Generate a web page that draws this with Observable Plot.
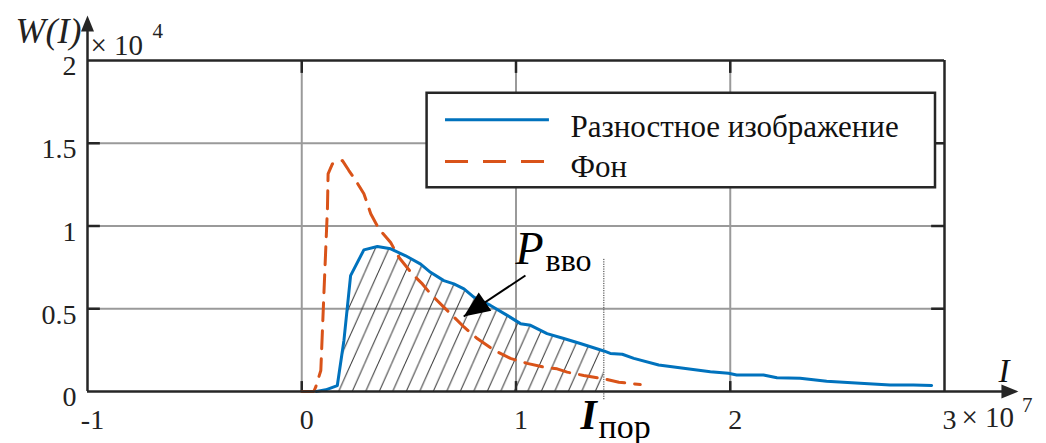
<!DOCTYPE html>
<html>
<head>
<meta charset="utf-8">
<script src="https://cdn.jsdelivr.net/npm/d3@7"></script>
<script src="https://cdn.jsdelivr.net/npm/@observablehq/plot@0.6"></script>
<style>
  html, body { margin: 0; padding: 0; background: #fff; }
  #chart { width: 1046px; height: 443px; }
  #chart svg, #chart svg text { font-family: "Liberation Serif", "Times New Roman", serif !important; }
</style>
</head>
<body>
<div id="chart"></div>
<script>
// ---- data (x in units of 1e7, y in units of 1e4) ----
const blueX = [0.068,0.112,0.166,0.197,0.228,0.29,0.353,0.415,0.485,0.555,0.601,0.663,0.71,0.757,0.803,0.881,0.959,1.021,1.068,1.145,1.223,1.30,1.41,1.44,1.496,1.55,1.666,1.782,1.907,1.992,2.03,2.155,2.218,2.326,2.45,2.606,2.746,2.855,2.94];
const blueY = [0,0.01,0.036,0.31,0.70,0.856,0.876,0.862,0.82,0.77,0.72,0.67,0.65,0.62,0.57,0.52,0.46,0.41,0.40,0.35,0.32,0.29,0.245,0.23,0.225,0.20,0.16,0.14,0.12,0.11,0.10,0.10,0.083,0.08,0.062,0.05,0.04,0.04,0.036];
const orangeX = [0,0.056,0.065,0.089,0.104,0.12,0.123,0.143,0.19,0.22,0.252,0.29,0.322,0.36,0.415,0.454,0.516,0.563,0.601,0.663,0.757,0.819,0.897,0.974,1.052,1.13,1.192,1.239,1.316,1.41,1.48,1.58];
const orangeY = [0,0,0.026,0.127,0.61,1.11,1.315,1.375,1.395,1.335,1.275,1.195,1.074,0.983,0.90,0.81,0.71,0.65,0.59,0.51,0.39,0.32,0.25,0.20,0.17,0.147,0.137,0.117,0.097,0.077,0.056,0.042];
const seriesNames = ["Разностное изображение", "Фон"];
const xTicks = [-1, 0, 1, 2, 3];
const xTickLabels = ["-1", "0", "1", "2", "3"];
const yTicks = [0, 0.5, 1, 1.5, 2];
const yTickLabels = ["0", "0.5", "1", "1.5", "2"];
const xGrid = [0, 1, 2];
const yGrid = [0.5, 1, 1.5];
const threshold = 1.41;          // I_пор
const xDomain = [-1, 3];
const yDomain = [0, 2];

// ---- derived tables ----
const blue = blueX.map((x, i) => ({x, y: blueY[i]}));
const orange = orangeX.map((x, i) => ({x, y: orangeY[i]}));
const hatched = blue.filter(d => d.x <= threshold + 1e-9);

// annotation anchors (data units)
const legendBox = [{x1: 0.585, x2: 2.958, y1: 1.231, y2: 1.802}];
const legendLines = [
  {x1: 0.671, x2: 1.156, y: 1.642, s: 0},
  {x1: 0.671, x2: 1.138, y: 1.390, s: 1}
];
const legendText = [{x: 1.254, y: 1.537, t: seriesNames[0]}, {x: 1.254, y: 1.295, t: seriesNames[1]}];
const arrowFrom = {x: 1.044, y: 0.701};
const arrowTip = {x: 0.756, y: 0.453};

const INK = "#262626";
const SERIF = "Liberation Serif";

// custom arrow-head symbol: tip at origin, pointing up
function head(len, wid) {
  return {draw(ctx) { ctx.moveTo(0, 0); ctx.lineTo(-wid/2, len); ctx.lineTo(wid/2, len); ctx.closePath(); }};
}

const tickLenX = 0.05, tickLenY = 0.06;
const T = (o) => Object.assign({fontFamily: SERIF}, o);

const svg = Plot.plot({
  width: 1046,
  height: 443,
  marginLeft: 87,
  marginRight: 102,
  marginTop: 60,
  marginBottom: 52,
  x: {domain: xDomain, axis: null},
  y: {domain: yDomain, axis: null},
  style: {fontSize: "27px", background: "#fff", overflow: "visible", color: INK},
  marks: [
    // grid
    Plot.ruleX(xGrid, {y1: yDomain[0], y2: yDomain[1], stroke: "#9a9a9a", strokeWidth: 2}),
    Plot.ruleY(yGrid, {x1: xDomain[0], x2: xDomain[1], stroke: "#9a9a9a", strokeWidth: 2}),
    // inner ticks
    Plot.ruleX(xGrid, {y1: 0, y2: tickLenY, stroke: INK, strokeWidth: 2.5}),
    Plot.ruleX(xGrid, {y1: 2, y2: 2 - tickLenY * 1.3, stroke: INK, strokeWidth: 2.5}),
    Plot.ruleY(yGrid, {x1: -1, x2: -1 + tickLenX * 1.2, stroke: INK, strokeWidth: 2.5}),
    Plot.ruleY(yGrid, {x1: 3, x2: 3 - tickLenX * 1.2, stroke: INK, strokeWidth: 2.5}),
    // frame
    Plot.ruleY([2], {x1: -1, x2: 3, stroke: INK, strokeWidth: 2.5}),
    Plot.ruleX([3], {y1: 0, y2: 2, stroke: INK, strokeWidth: 2.5}),
    // legend box
    Plot.rect(legendBox, {x1: "x1", x2: "x2", y1: "y1", y2: "y2", fill: "#fff", stroke: INK, strokeWidth: 2.5}),
    Plot.ruleY(legendLines.filter(d => d.s === 0), {x1: "x1", x2: "x2", y: "y", stroke: "#0072BD", strokeWidth: 3}),
    Plot.ruleY(legendLines.filter(d => d.s === 1), {x1: "x1", x2: "x2", y: "y", stroke: "#D95319", strokeWidth: 3, strokeDasharray: "23,15"}),
    Plot.text(legendText, T({x: "x", y: "y", text: "t", textAnchor: "start", lineAnchor: "bottom", fontSize: 31, fill: "#111"})),
    // hatched region P_вво
    Plot.areaY(hatched, {x: "x", y: "y", fill: "url(#hatch)", stroke: "none"}),
    // threshold line
    Plot.ruleX([threshold], {y1: -0.05, y2: 0.80, stroke: "#333", strokeWidth: 1, strokeDasharray: "1.2,1.2"}),
    // curves
    Plot.line(orange, {x: "x", y: "y", stroke: "#D95319", strokeWidth: 3, strokeDasharray: "18,10"}),
    Plot.line(blue, {x: "x", y: "y", stroke: "#0072BD", strokeWidth: 3}),
    // axes with arrows
    Plot.ruleX([-1], {y1: 0, y2: 2.24, stroke: INK, strokeWidth: 2.5}),
    Plot.ruleY([0], {x1: -1, x2: 3.32, stroke: INK, strokeWidth: 2.5}),
    Plot.dot([{x: -1, y: 2.272}], {x: "x", y: "y", symbol: head(16, 13), fill: INK, stroke: "none", rotate: 0}),
    Plot.dot([{x: 3.345, y: 0}], {x: "x", y: "y", symbol: head(17, 14), fill: INK, stroke: "none", rotate: 90}),
    // tick labels
    Plot.text(xTicks, T({x: d => d, y: 0, text: (d, i) => xTickLabels[i], lineAnchor: "top", dy: 18, dx: 5, fontSize: 28, fill: "#222"})),
    Plot.text(yTicks, T({x: -1, y: d => d, text: (d, i) => yTickLabels[i], textAnchor: "end", dx: -11, dy: 6, fontSize: 28, fill: "#222"})),
    // exponents
    Plot.text([{x: -0.986, y: 2.036}], T({x: "x", y: "y", text: () => "× 10", textAnchor: "start", lineAnchor: "bottom", fontSize: 29, fill: "#222"})),
    Plot.text([{x: -0.697, y: 2.133}], T({x: "x", y: "y", text: () => "4", textAnchor: "start", lineAnchor: "bottom", fontSize: 21, fill: "#222"})),
    Plot.text([{x: 3.079, y: -0.2175}], T({x: "x", y: "y", text: () => "× 10", textAnchor: "start", lineAnchor: "bottom", fontSize: 29, fill: "#222"})),
    Plot.text([{x: 3.362, y: -0.125}], T({x: "x", y: "y", text: () => "7", textAnchor: "start", lineAnchor: "bottom", fontSize: 21, fill: "#222"})),
    // axis titles
    Plot.text([{x: -1.336, y: 2.103}], T({x: "x", y: "y", text: () => "W(I)", textAnchor: "start", lineAnchor: "bottom", fontSize: 36, fontStyle: "italic", fill: "#222"})),
    Plot.text([{x: 3.252, y: 0.06}], T({x: "x", y: "y", text: () => "I", textAnchor: "start", lineAnchor: "bottom", fontSize: 33, fontStyle: "italic", fill: "#111"})),
    // annotations
    Plot.link([{x1: arrowFrom.x, y1: arrowFrom.y, x2: arrowTip.x, y2: arrowTip.y}], {x1: "x1", y1: "y1", x2: "x2", y2: "y2", stroke: "#000", strokeWidth: 2}),
    Plot.dot([arrowTip], {x: "x", y: "y", symbol: head(26, 22), fill: "#000", stroke: "none", rotate: 235}),
    Plot.text([{x: 0.998, y: 0.773}], T({x: "x", y: "y", text: () => "P", textAnchor: "start", lineAnchor: "bottom", fontSize: 46, fontStyle: "italic", fill: "#000"})),
    Plot.text([{x: 1.138, y: 0.727}], T({x: "x", y: "y", text: () => "вво", textAnchor: "start", lineAnchor: "bottom", fontSize: 32, fill: "#000"})),
    Plot.text([{x: 1.301, y: -0.2236}], T({x: "x", y: "y", text: () => "I", textAnchor: "start", lineAnchor: "bottom", fontSize: 42, fontStyle: "italic", fontWeight: "bold", fill: "#000"})),
    Plot.text([{x: 1.385, y: -0.278}], T({x: "x", y: "y", text: () => "пор", textAnchor: "start", lineAnchor: "bottom", fontSize: 34, fill: "#000"}))
  ]
});
svg.style.fontFamily = "'Liberation Serif', 'Times New Roman', serif";

// hatch pattern definition
const w = 13.5, h = w * Math.tan(66 * Math.PI / 180);
const defs = d3.select(svg).insert("defs", ":first-child");
const pat = defs.append("pattern").attr("id", "hatch").attr("patternUnits", "userSpaceOnUse")
  .attr("width", w).attr("height", h);
pat.append("path")
  .attr("d", `M0,${h}L${w},0M${-w},${h}L0,0M${w},${h}L${2*w},0`)
  .attr("stroke", "#333").attr("stroke-width", 1).attr("fill", "none");

document.getElementById("chart").appendChild(svg);
</script>
</body>
</html>
